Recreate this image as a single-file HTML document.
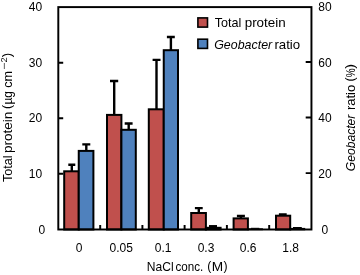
<!DOCTYPE html>
<html><head><meta charset="utf-8">
<style>
html,body{margin:0;padding:0;background:#fff;}
svg{display:block;}
svg{will-change:transform;transform:translateZ(0);}
text{font-family:"Liberation Sans",sans-serif;fill:#000;}
</style></head><body>
<svg width="360" height="275" viewBox="0 0 360 275">
<rect width="360" height="275" fill="#fff"/>
<!-- bars -->
<g stroke="#000" stroke-width="2" stroke-linejoin="miter">
 <g fill="#c0504d">
  <rect x="64.2" y="171.3" width="14.55" height="58.2"/>
  <rect x="107" y="114.9" width="14.4" height="114.6"/>
  <rect x="148.8" y="109.3" width="14.95" height="120.2"/>
  <rect x="191.2" y="213" width="14.7" height="16.5"/>
  <rect x="233.6" y="218.4" width="14.3" height="11.1"/>
  <rect x="276" y="215.7" width="14.2" height="13.8"/>
 </g>
 <g fill="#4f81bd">
  <rect x="78.75" y="150.9" width="14.65" height="78.6"/>
  <rect x="121.4" y="129.8" width="14.4" height="99.7"/>
  <rect x="163.75" y="50.2" width="14.25" height="179.3"/>
  <rect x="205.9" y="227.8" width="14.7" height="1.7"/>
  <rect x="247.9" y="229" width="14.3" height="0.5" stroke-width="1.4"/>
  <rect x="290.2" y="228.7" width="14.2" height="0.8" stroke-width="1.6"/>
 </g>
</g>
<!-- error bars -->
<g stroke="#000" stroke-width="2.4" fill="none">
 <path d="M71.8 171.3V164.7M68.3 164.7H75.3"/>
 <path d="M86.3 150.9V144.4M82.3 144.4H90.3"/>
 <path d="M114.2 114.9V81M110 81H118.2"/>
 <path d="M128.7 129.8V123.5M124.7 123.5H132.6"/>
 <path d="M156.5 109.3V59.9M152.6 59.9H160.5"/>
 <path d="M170.9 50.2V37M166.9 37H174.8"/>
 <path d="M198.8 213V208.1M194.9 208.1H202.7"/>
 <path d="M240.9 218.4V216M236.9 216H244.9"/>
 <path d="M282.8 215.7V214.4M278.9 214.4H286.7"/>
 <path d="M209 226.25H217"/>
 <path d="M251 228.3H259.3" stroke-width="1"/>
 <path d="M293 227.6H301.8" stroke-width="1.2"/>
</g>
<!-- axes -->
<g stroke="#000" stroke-width="1.95" fill="none">
 <rect x="58.3" y="7.1" width="253.15" height="222.4"/>
 <path d="M58.3 62.7H63.2M58.3 118.3H63.2M58.3 173.7H63.2"/>
 <path d="M311.4 61.9H305.7M311.4 117.5H305.7M311.4 173.1H305.7"/>
 <path d="M100.2 229.5V225M142.4 229.5V225M184.6 229.5V225M226.9 229.5V225M269.2 229.5V225"/>
</g>
<!-- left tick labels -->
<g font-size="12" text-anchor="end">
 <text x="42.2" y="11">40</text>
 <text x="42.2" y="66.8">30</text>
 <text x="42.2" y="122.4">20</text>
 <text x="42.2" y="178.2">10</text>
 <text x="45.1" y="234.2">0</text>
</g>
<!-- right tick labels -->
<g font-size="12" text-anchor="middle">
 <text x="324.9" y="11">80</text>
 <text x="324.9" y="66.8">60</text>
 <text x="324.9" y="122.4">40</text>
 <text x="324.9" y="178.2">20</text>
 <text x="324.9" y="234.3">0</text>
</g>
<!-- x labels -->
<g font-size="12" text-anchor="middle">
 <text x="79" y="251.8">0</text>
 <text x="121.3" y="251.8">0.05</text>
 <text x="163.2" y="251.8">0.1</text>
 <text x="206" y="251.8">0.3</text>
 <text x="248.2" y="251.8">0.6</text>
 <text x="290.6" y="251.8">1.8</text>
</g>
<g font-size="12.2">
<text x="146.8" y="270.8" textLength="26.8" lengthAdjust="spacingAndGlyphs">NaCl</text>
<text x="175.4" y="270.8" textLength="27.8" lengthAdjust="spacingAndGlyphs">conc.</text>
<text x="207.3" y="269.8">(</text>
<text x="211.7" y="270.8" textLength="11.4" lengthAdjust="spacingAndGlyphs">M</text>
<text x="223.4" y="269.8">)</text>
</g>
<!-- legend -->
<rect x="197.9" y="17.9" width="9.6" height="9.2" fill="#c0504d" stroke="#000" stroke-width="1.6"/>
<rect x="197.9" y="39.2" width="9.6" height="9.2" fill="#4f81bd" stroke="#000" stroke-width="1.6"/>
<g font-size="12.2">
<text x="214.8" y="26.8" textLength="26.6" lengthAdjust="spacingAndGlyphs">Total</text>
<text x="244.7" y="26.8" textLength="41" lengthAdjust="spacingAndGlyphs">protein</text>
<text x="214.2" y="48.6" font-style="italic" textLength="58" lengthAdjust="spacingAndGlyphs">Geobacter</text>
<text x="274.4" y="48.6" textLength="25.8" lengthAdjust="spacingAndGlyphs">ratio</text>
</g>
<!-- y titles -->
<g font-size="12.2">
<text transform="translate(12.2 182.1) rotate(-90)" textLength="26.6" lengthAdjust="spacingAndGlyphs">Total</text>
<text transform="translate(12.2 153.1) rotate(-90)" textLength="41.5" lengthAdjust="spacingAndGlyphs">protein</text>
<text transform="translate(11 108.9) rotate(-90)" font-size="12.6">(</text>
<text transform="translate(12.2 104.6) rotate(-90)" textLength="13.6" lengthAdjust="spacingAndGlyphs">µg</text>
<text transform="translate(12.2 87.8) rotate(-90)" textLength="16.8" lengthAdjust="spacingAndGlyphs">cm</text>
<text transform="translate(7.3 69.8) rotate(-90)" font-size="9" textLength="7.2" lengthAdjust="spacingAndGlyphs">−</text>
<text transform="translate(7.4 62.5) rotate(-90)" font-size="9.2">2</text>
<text transform="translate(11.2 57.2) rotate(-90)" font-size="13.2">)</text>
</g>
<g font-size="12.2">
<text transform="translate(355 171.2) rotate(-90)" font-style="italic" textLength="56.6" lengthAdjust="spacingAndGlyphs">Geobacter</text>
<text transform="translate(355 110.1) rotate(-90)" textLength="25.3" lengthAdjust="spacingAndGlyphs">ratio</text>
<text transform="translate(354 81.4) rotate(-90)" font-size="12.6">(</text>
<text transform="translate(355 77.2) rotate(-90)" textLength="8.9" lengthAdjust="spacingAndGlyphs">%</text>
<text transform="translate(354 68.8) rotate(-90)" font-size="12.6" textLength="4.8" lengthAdjust="spacingAndGlyphs">)</text>
</g>
</svg>
</body></html>
